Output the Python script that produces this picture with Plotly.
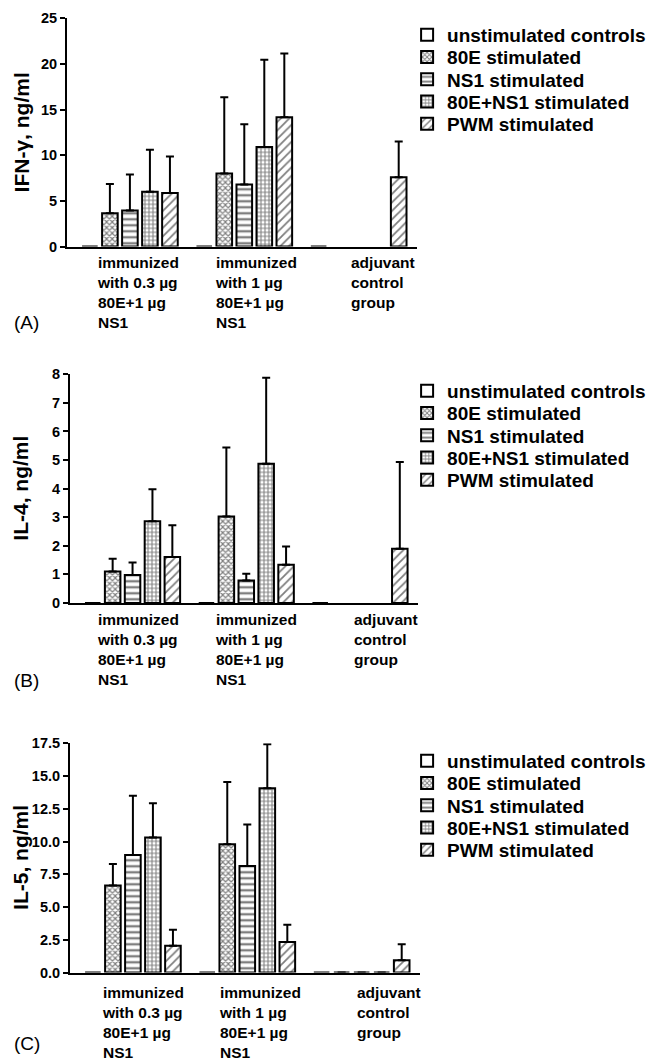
import plotly.graph_objects as go

W, H = 650, 1061
FONT = "Liberation Sans, Arial, sans-serif"

groups = [0, 1, 2]
series = ["unstimulated controls", "80E stimulated", "NS1 stimulated",
          "80E+NS1 stimulated", "PWM stimulated"]
patterns = ["", "x", "-", "+", "/"]
pat_size = [6, 4, 6, 4, 6]
pat_sol = [0.3, 0.5, 0.4, 0.45, 0.3]

group_labels = ["immunized<br>with 0.3 µg<br>80E+1 µg<br>NS1",
                "immunized<br>with 1 µg<br>80E+1 µg<br>NS1",
                "adjuvant<br>control<br>group"]

# Panel A: IFN-gamma (mean, upper error end)
ifn_mean = {
    "unstimulated controls": [0, 0, 0],
    "80E stimulated": [3.65, 8.0, None],
    "NS1 stimulated": [3.95, 6.8, None],
    "80E+NS1 stimulated": [6.0, 10.9, None],
    "PWM stimulated": [5.85, 14.15, 7.6],
}
ifn_top = {
    "80E stimulated": [6.85, 16.35, None],
    "NS1 stimulated": [7.9, 13.4, None],
    "80E+NS1 stimulated": [10.6, 20.45, None],
    "PWM stimulated": [9.85, 21.15, 11.5],
}
# Panel B: IL-4
il4_mean = {
    "unstimulated controls": [0, 0, 0],
    "80E stimulated": [1.1, 3.03, None],
    "NS1 stimulated": [0.98, 0.79, None],
    "80E+NS1 stimulated": [2.86, 4.87, None],
    "PWM stimulated": [1.61, 1.34, 1.9],
}
il4_top = {
    "80E stimulated": [1.55, 5.44, None],
    "NS1 stimulated": [1.42, 1.02, None],
    "80E+NS1 stimulated": [3.98, 7.88, None],
    "PWM stimulated": [2.72, 1.98, 4.93],
}
# Panel C: IL-5
il5_mean = {
    "unstimulated controls": [0, 0, 0],
    "80E stimulated": [6.64, 9.8, 0],
    "NS1 stimulated": [8.98, 8.14, 0],
    "80E+NS1 stimulated": [10.3, 14.07, 0],
    "PWM stimulated": [2.04, 2.32, 0.94],
}
il5_top = {
    "80E stimulated": [8.29, 14.55, None],
    "NS1 stimulated": [13.49, 11.3, None],
    "80E+NS1 stimulated": [12.93, 17.43, None],
    "PWM stimulated": [3.26, 3.64, 2.16],
}

y_titles = ["IFN-γ, ng/ml", "IL-4, ng/ml", "IL-5, ng/ml"]
y_ranges = [[0, 25], [0, 8], [0, 17.5]]
y_ticks = [[0, 5, 10, 15, 20, 25], [0, 1, 2, 3, 4, 5, 6, 7, 8],
           [0, 2.5, 5, 7.5, 10, 12.5, 15, 17.5]]
y_ticktext = [None, None, ["0.0", "2.5", "5.0", "7.5", "10.0", "12.5", "15.0", "17.5"]]
panel_letters = ["(A)", "(B)", "(C)"]

def py(p):
    return 1 - p / H

# layout in pixels: (x_left, x_right, y_top, y_bottom)
boxes = [(67, 417, 18.3, 246.5), (70, 418, 374.3, 603), (70, 420, 743.3, 972.5)]
legend_row0 = [35, 391, 761]
legend_step = 22.2
label_lines0 = [263, 620, 993]
label_x = [[95, 213, 349], [95, 213, 352], [100, 217, 355]]
letter_y = [322, 680, 1043]

panels = [(ifn_mean, ifn_top), (il4_mean, il4_top), (il5_mean, il5_top)]

fig = go.Figure()
annotations = []
for k, (means, tops) in enumerate(panels):
    xa = "x" if k == 0 else f"x{k+1}"
    ya = "y" if k == 0 else f"y{k+1}"
    for i, s in enumerate(series):
        n = k * 5 + i + 1
        lg = "legend" if n == 1 else f"legend{n}"
        m = means[s]
        err = None
        if s in tops:
            arr = [(t - v) if (t is not None and v is not None) else None
                   for t, v in zip(tops[s], m)]
            err = dict(type="data", array=arr, arrayminus=[0] * 3, symmetric=False,
                       color="black", thickness=2, width=4, visible=True)
        fig.add_trace(go.Bar(
            x=groups, y=m, name=s, xaxis=xa, yaxis=ya, legend=lg,
            marker=dict(color="white", line=dict(color="black", width=2),
                        pattern=dict(shape=patterns[i], fgcolor="black", bgcolor="white",
                                     size=pat_size[i], solidity=pat_sol[i])),
            error_y=err if err else dict(visible=False),
            hoverinfo="skip",
        ))
        fig.layout[lg] = dict(
            x=0.6263, xanchor="left", y=py(legend_row0[k] + i * legend_step),
            yanchor="middle",
            font=dict(family=FONT, size=19, color="black", weight="bold"),
            bgcolor="rgba(0,0,0,0)", itemclick=False, itemdoubleclick=False,
        )
    xl, xr, yt, yb = boxes[k]
    fig.layout[f"xaxis{'' if k == 0 else k+1}"] = dict(
        domain=[xl / W, xr / W], anchor=ya, range=[-0.55, 2.51],
        showline=True, linecolor="black", linewidth=2, showticklabels=False,
        ticks="", showgrid=False, zeroline=False, fixedrange=True)
    fig.layout[f"yaxis{'' if k == 0 else k+1}"] = dict(
        domain=[py(yb), py(yt)], anchor=xa, range=y_ranges[k],
        tickvals=y_ticks[k], ticktext=y_ticktext[k],
        showline=True, linecolor="black", linewidth=2,
        ticks="outside", ticklen=5, tickwidth=2, tickcolor="black",
        tickfont=dict(family=FONT, size=14.5, color="black", weight="bold"),
        showgrid=False, zeroline=False, fixedrange=True)
    annotations.append(dict(
        text=y_titles[k], xref="paper", yref="paper", x=21 / W,
        y=py((yt + yb) / 2), textangle=-90, showarrow=False,
        xanchor="center", yanchor="middle",
        font=dict(family=FONT, size=21, color="black", weight="bold")))
    for g in range(3):
        annotations.append(dict(
            text=group_labels[g], xref="paper", yref="paper",
            x=label_x[k][g] / W, y=py(label_lines0[k] - 11), xanchor="left",
            yanchor="top", align="left", showarrow=False,
            font=dict(family=FONT, size=15.5, color="black", weight="bold")))
    annotations.append(dict(
        text=panel_letters[k], xref="paper", yref="paper", x=12 / W,
        y=py(letter_y[k]), xanchor="left", yanchor="middle", showarrow=False,
        font=dict(family=FONT, size=19, color="black")))

fig.update_layout(
    width=W, height=H, margin=dict(l=0, r=0, t=0, b=0, autoexpand=False),
    paper_bgcolor="white", plot_bgcolor="white",
    barmode="group", bargap=0.125, bargroupgap=0.22,
    annotations=annotations, showlegend=True,
    font=dict(family=FONT, color="black"),
)

fig.write_html("out.html", config={"displayModeBar": False},
               post_script="document.body.style.margin='0';document.body.style.overflow='hidden';")
